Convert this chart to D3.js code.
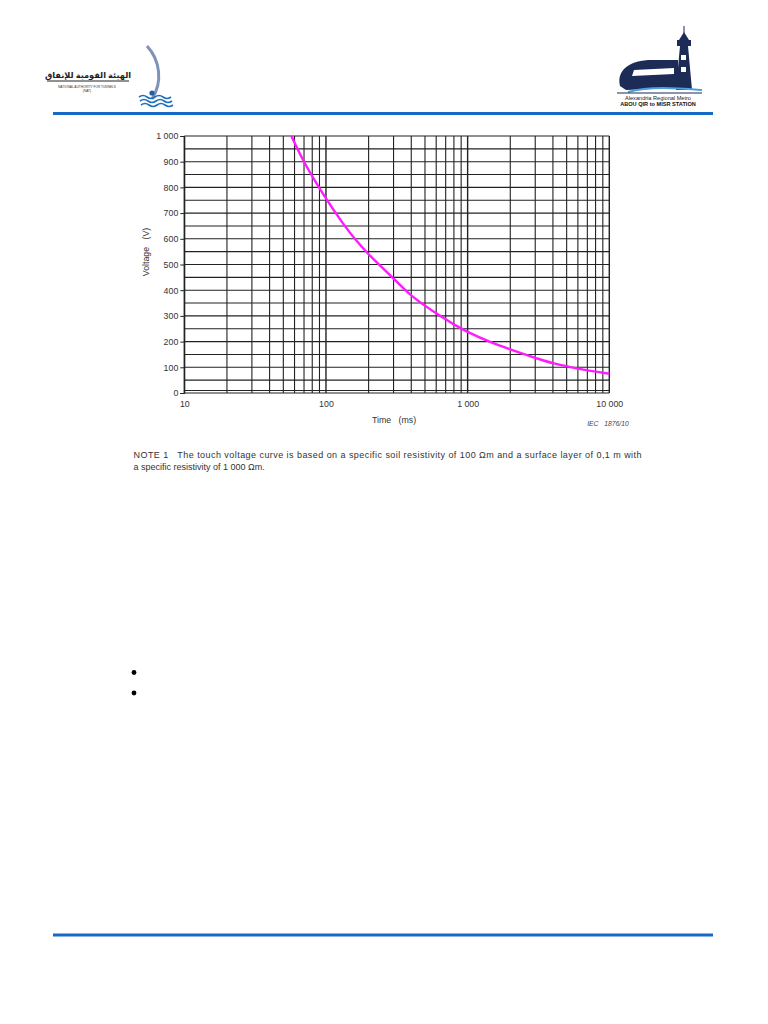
<!DOCTYPE html>
<html><head><meta charset="utf-8">
<script src="https://cdn.jsdelivr.net/npm/d3@7"></script>
<style>
html,body{margin:0;padding:0;background:#fff;}
svg{display:block;font-family:"Liberation Sans",Arial,sans-serif;}
</style></head>
<body>
<svg id="page" width="768" height="1024"></svg>
<script>
// ---- data ----
const timeMs   = [57, 70, 100, 130, 160, 200, 240, 300, 400, 500, 600, 700, 800, 1000, 1500, 2000, 3000, 4000, 6000, 10000];
const voltageV = [1000, 900, 757, 665, 600, 540, 497, 445, 380, 340, 310, 287, 267, 238, 195, 170, 137, 116, 95, 75];
const xTickValues = [10, 100, 1000, 10000];
const xTickLabels = ["10", "100", "1 000", "10 000"];
const yTickValues = [0, 100, 200, 300, 400, 500, 600, 700, 800, 900, 1000];
const yTickLabels = ["0", "100", "200", "300", "400", "500", "600", "700", "800", "900", "1 000"];
const xGridValues = [10,20,30,40,50,60,70,80,90,100,200,300,400,500,600,700,800,900,1000,2000,3000,4000,5000,6000,7000,8000,9000,10000];
const yGridValues = [0,10,50,100,150,200,250,300,350,400,450,500,550,600,650,700,750,800,850,900,950,1000];
const xTitle = "Time   (ms)";
const yTitle = "Voltage   (V)";
const figRef = "IEC   1876/10";
const noteLines = [
  "NOTE 1   The touch voltage curve is based on a specific soil resistivity of 100 \u03A9m and a surface layer of 0,1 m with",
  "a specific resistivity of 1 000 \u03A9m."
];

const svg = d3.select("#page");
const blue = "#1669c4";

// ---- page furniture ----
svg.append("line").attr("x1",53).attr("x2",713).attr("y1",113.5).attr("y2",113.5)
   .attr("stroke",blue).attr("stroke-width",3);
svg.append("line").attr("x1",53).attr("x2",713).attr("y1",935).attr("y2",935)
   .attr("stroke",blue).attr("stroke-width",3);

// left logo (simplified)
const ll = svg.append("g");
ll.append("text").attr("x",88).attr("y",78).attr("text-anchor","middle")
  .attr("font-family","'Noto Sans','DejaVu Sans',sans-serif").attr("font-weight","bold")
  .attr("font-size",8.2).attr("fill","#222").attr("direction","rtl").text("الهيئة القومية للإنفاق");
ll.append("line").attr("x1",47).attr("x2",129).attr("y1",81).attr("y2",81).attr("stroke","#222").attr("stroke-width",1);
ll.append("text").attr("x",87).attr("y",88).attr("text-anchor","middle").attr("font-size",3.2).attr("fill","#333").text("NATIONAL AUTHORITY FOR TUNNELS");
ll.append("text").attr("x",87).attr("y",92).attr("text-anchor","middle").attr("font-size",3.2).attr("fill","#333").text("(NAT)");
ll.append("path").attr("d","M147,46 C160,60 163,82 152,99").attr("fill","none").attr("stroke","#7d93b8").attr("stroke-width",3);
ll.append("circle").attr("cx",152).attr("cy",93).attr("r",2.6).attr("fill","#1f5fa8");
[97,101,105].forEach((yy,i)=>{
  ll.append("path").attr("d",`M${139+i},${yy} q4,-3 8,0 t8,0 t8,0 t8,0`).attr("fill","none").attr("stroke","#1f6fc0").attr("stroke-width",1.6);
});

// right logo (simplified)
const rl = svg.append("g");
const navy = "#1d2b57";
rl.append("path").attr("d","M680,46 L688,46 L692,90 L676,90 Z").attr("fill",navy);
rl.append("rect").attr("x",677).attr("y",40).attr("width",14).attr("height",6).attr("fill",navy);
rl.append("path").attr("d","M679,40 L684,32 L689,40 Z").attr("fill",navy);
rl.append("line").attr("x1",684).attr("x2",684).attr("y1",26).attr("y2",33).attr("stroke",navy);
rl.append("rect").attr("x",681).attr("y",55).attr("width",5).attr("height",5).attr("fill","#fff");
rl.append("rect").attr("x",681).attr("y",67).attr("width",5).attr("height",5).attr("fill","#fff");
rl.append("path").attr("d","M620,86 C616,70 630,60 652,60 L678,60 L678,88 L626,90 Z").attr("fill",navy);
rl.append("path").attr("d","M634,70 L674,68 L674,74 L632,76 Z").attr("fill","#fff");
rl.append("path").attr("d","M628,92 C650,86 675,88 702,90").attr("fill","none").attr("stroke","#4aa0e0").attr("stroke-width",2);
rl.append("line").attr("x1",617).attr("x2",702).attr("y1",93).attr("y2",93).attr("stroke",navy).attr("stroke-width",1.2);
rl.append("text").attr("x",658).attr("y",99.5).attr("text-anchor","middle").attr("font-size",5.6).attr("fill","#222").text("Alexandria Regional Metro");
rl.append("text").attr("x",658).attr("y",106).attr("text-anchor","middle").attr("font-size",5.6).attr("font-weight","bold").attr("fill","#111").text("ABOU QIR to MISR STATION");

// ---- chart ----
const x = d3.scaleLog().domain([10,10000]).range([184.3,609.3]);
const y = d3.scaleLinear().domain([0,1000]).range([393,136]);
const chart = svg.append("g");

chart.append("g").selectAll("line").data(yGridValues).join("line")
  .attr("x1",x(10)).attr("x2",x(10000)).attr("y1",d=>y(d)).attr("y2",d=>y(d))
  .attr("stroke","#222").attr("stroke-width",1.1);
chart.append("g").selectAll("line").data(xGridValues).join("line")
  .attr("x1",d=>x(d)).attr("x2",d=>x(d)).attr("y1",y(0)).attr("y2",y(1000))
  .attr("stroke","#222").attr("stroke-width",d=>[10,100,1000,10000].includes(d)?1.4:1.1);

const yAxis = d3.axisLeft(y).tickValues(yTickValues).tickSize(4).tickPadding(2)
  .tickFormat((d,i)=>yTickLabels[i]);
const gy = chart.append("g").attr("transform",`translate(${x(10)},0)`).call(yAxis);
gy.select(".domain").attr("stroke","#222");
gy.selectAll(".tick line").attr("stroke","#222");
gy.selectAll("text").attr("font-size",8.8).attr("fill","#333").attr("font-family","'Liberation Sans',Arial,sans-serif");

const xAxis = d3.axisBottom(x).tickValues(xTickValues).tickSize(0).tickPadding(8)
  .tickFormat((d,i)=>xTickLabels[i]);
const gx = chart.append("g").attr("transform",`translate(0,${y(0)})`).call(xAxis);
gx.select(".domain").remove();
gx.selectAll("text").attr("font-size",8.8).attr("fill","#333").attr("font-family","'Liberation Sans',Arial,sans-serif");

const line = d3.line().x((d,i)=>x(timeMs[i])).y(d=>y(d)).curve(d3.curveCatmullRom.alpha(0.5));
chart.append("path").attr("d",line(voltageV)).attr("fill","none")
  .attr("stroke","#ff1aff").attr("stroke-width",2.4);

chart.append("text").attr("x",394).attr("y",423).attr("text-anchor","middle")
  .attr("font-size",8.8).attr("fill","#333").style("white-space","pre").text(xTitle);
chart.append("text").attr("transform","translate(149,252) rotate(-90)").attr("text-anchor","middle")
  .attr("font-size",8.8).attr("fill","#333").style("white-space","pre").text(yTitle);
chart.append("text").attr("x",608).attr("y",426).attr("text-anchor","middle")
  .attr("font-size",6.8).attr("font-style","italic").attr("fill","#444").style("white-space","pre").text(figRef);

// note
svg.append("g").selectAll("text").data(noteLines).join("text")
  .attr("x",133.5).attr("y",(d,i)=>458+i*12)
  .attr("font-size",9).attr("fill","#333").style("white-space","pre")
  .attr("textLength",(d,i)=>i===0?508:null).attr("lengthAdjust","spacing")
  .text(d=>d);

// bullets
svg.append("g").selectAll("circle").data([672.5,693]).join("circle")
  .attr("cx",134).attr("cy",d=>d).attr("r",2.4).attr("fill","#000");
</script>
</body></html>
